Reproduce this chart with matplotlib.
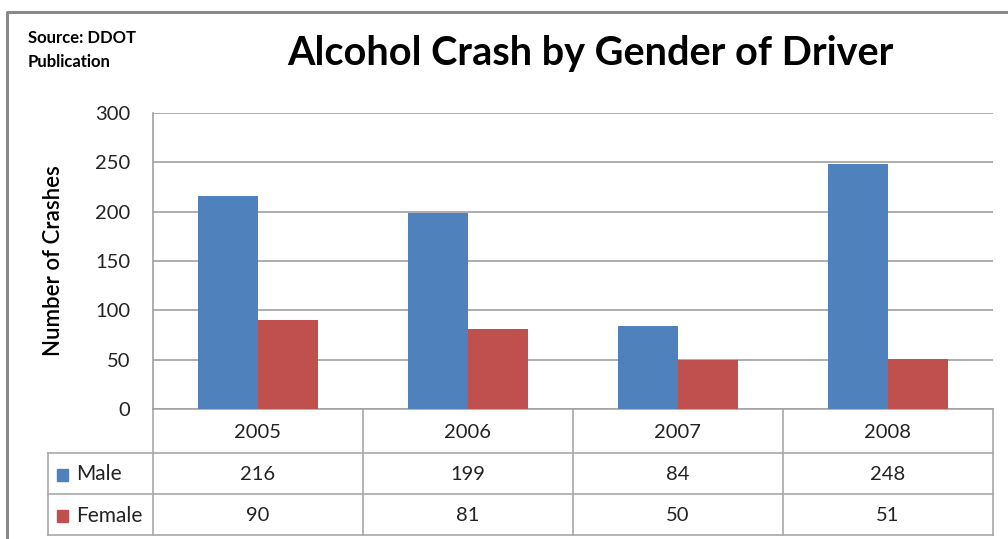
import matplotlib
matplotlib.use("Agg")
import matplotlib.pyplot as plt
import numpy as np

years = ["2005", "2006", "2007", "2008"]
series_names = ["Male", "Female"]
male = [216, 199, 84, 248]
female = [90, 81, 50, 51]
colors = ["#4F81BD", "#C0504D"]
yticks = [0, 50, 100, 150, 200, 250, 300]

plt.rcParams['font.family'] = ['Lato', 'DejaVu Sans']

W, H = 1008, 539
fig = plt.figure(figsize=(W / 100, H / 100), dpi=100)

# overlay axes in pixel coordinates for frame & table
ov = fig.add_axes([0, 0, 1, 1], zorder=0)
ov.set_xlim(0, W)
ov.set_ylim(H, 0)
ov.axis("off")

# plot area
L, R, T, B = 152.5, 993, 113, 409
ax = fig.add_axes([L / W, 1 - B / H, (R - L) / W, (B - T) / H], zorder=1)
ax.patch.set_alpha(0)
x = np.arange(len(years))
bw = 60 / 210
ax.bar(x - bw / 2, male, width=bw, color=colors[0], zorder=3)
ax.bar(x + bw / 2, female, width=bw, color=colors[1], zorder=3)
ax.set_xlim(-0.5, len(years) - 0.5)
ax.set_ylim(0, 300)
ax.set_yticks(yticks)
ax.set_yticklabels([str(v) for v in yticks], fontsize=14.5, color="#222222")
ax.tick_params(axis="y", length=0, pad=16)
ax.set_xticks([])
ax.grid(axis="y", color="#a0a0a0", linewidth=1.2, zorder=0)
for s in ["top", "right", "bottom"]:
    ax.spines[s].set_visible(False)
ax.spines["left"].set_color("#a0a0a0")
ax.spines["left"].set_linewidth(1.2)
ax.set_ylabel("Number of Crashes", fontsize=16, fontweight="semibold")
ax.yaxis.set_label_coords((64 - L) / (R - L), 0.5)

# outer frame
ov.plot([7, 7, W + 5], [H + 5, 12, 12], color="#8a8a8a", lw=2.2, solid_capstyle="butt")

# title & source
ov.text(590, 53, "Alcohol Crash by Gender of Driver", ha="center", va="center",
        fontsize=28.5, fontweight="bold", color="black")
ov.text(28, 38, "Source: DDOT", ha="left", va="center", fontsize=12, fontweight="bold")
ov.text(28, 62, "Publication", ha="left", va="center", fontsize=12, fontweight="bold")

# data table
gc = "#a8a8a8"
lw = 1.2
cols = [L + i * (R - L) / len(years) for i in range(len(years) + 1)]
rows = [409, 453, 494, 535]
TL = 48
ov.plot([L, R], [rows[0], rows[0]], color=gc, lw=lw)
for r in rows[1:]:
    ov.plot([TL, R], [r, r], color=gc, lw=lw)
for c in cols:
    ov.plot([c, c], [rows[0], rows[-1]], color=gc, lw=lw)
ov.plot([TL, TL], [rows[1], rows[-1]], color=gc, lw=lw)

fs = 14.5
for i, yr in enumerate(years):
    cx = (cols[i] + cols[i + 1]) / 2
    ov.text(cx, (rows[0] + rows[1]) / 2 + 1, yr, ha="center", va="center", fontsize=fs, color="#222222")
for j, (name, vals) in enumerate(zip(series_names, [male, female])):
    cy = (rows[j + 1] + rows[j + 2]) / 2 + 1
    ov.add_patch(plt.Rectangle((57, cy - 6), 11, 12, color=colors[j]))
    ov.text(76, cy, name, ha="left", va="center", fontsize=15, color="#222222")
    for i, v in enumerate(vals):
        cx = (cols[i] + cols[i + 1]) / 2
        ov.text(cx, cy, str(v), ha="center", va="center", fontsize=fs, color="#222222")

fig.savefig("out.png", dpi=100)
